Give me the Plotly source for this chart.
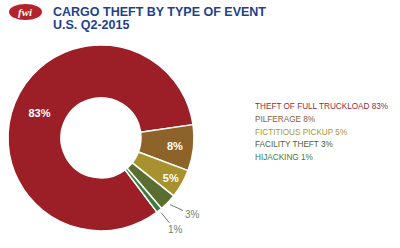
import math
import plotly.graph_objects as go

categories = ["THEFT OF FULL TRUCKLOAD", "PILFERAGE", "FICTITIOUS PICKUP", "FACILITY THEFT", "HIJACKING"]
values = [83, 8, 5, 3, 1]
colors = ["#9c1f28", "#8e6329", "#a8922f", "#5a6e2f", "#3b7d3c"]
legend_colors = ["#9a2a38", "#8a6035", "#a8963a", "#4f5f30", "#3f7a3f"]
inside = [True, True, True, False, False]

W, H = 400, 248
dom_x = [0.02, 0.485]
dom_y = [0.069, 0.819]
rotation = 143

fig = go.Figure()
fig.add_trace(go.Pie(
    labels=categories,
    values=values,
    hole=0.43,
    sort=False,
    direction="clockwise",
    rotation=rotation,
    marker=dict(colors=colors, line=dict(color="white", width=1.5)),
    texttemplate=["%{value}%" if s else "" for s in inside],
    textposition=["inside" if s else "none" for s in inside],
    insidetextfont=dict(color="white", size=11, family="Liberation Sans", weight="bold"),
    insidetextorientation="horizontal",
    domain=dict(x=dom_x, y=dom_y),
    showlegend=False,
))

# outside labels with leader lines, positioned from the data angles
cx = (dom_x[0] + dom_x[1]) / 2
cy = (dom_y[0] + dom_y[1]) / 2
r_px = min((dom_x[1] - dom_x[0]) * W, (dom_y[1] - dom_y[0]) * H) / 2
total = sum(values)
cum = 0
offsets = {3: (22, 10), 4: (14, 17)}
for i, v in enumerate(values):
    mid = math.radians(rotation + 360 * (cum + v / 2) / total)
    cum += v
    if inside[i]:
        continue
    rr = r_px + 3
    tx = cx + rr * math.sin(mid) / W
    ty = cy + rr * math.cos(mid) / H
    ax, ay = offsets[i]
    fig.add_annotation(
        x=tx, y=ty, xref="paper", yref="paper", text=f"{v}%",
        showarrow=True, arrowhead=0, arrowwidth=1, arrowcolor="#6f8070",
        ax=ax, ay=ay, standoff=0,
        font=dict(color="#6f8070", size=10, family="Liberation Sans"),
    )

# Legend as colored text
for i, (c, v, col) in enumerate(zip(categories, values, legend_colors)):
    fig.add_annotation(
        x=253 / W, y=1 - (107 + i * 12.5) / H, xref="paper", yref="paper",
        text=f"{c} {v}%", showarrow=False, xanchor="left", yanchor="middle",
        font=dict(color=col, size=8.2, family="Liberation Sans"),
    )

# Title
for j, t in enumerate(["CARGO THEFT BY TYPE OF EVENT", "U.S. Q2-2015"]):
    fig.add_annotation(
        x=51 / W, y=1 - (12 + j * 13) / H, xref="paper", yref="paper",
        text=f"<b>{t}</b>", showarrow=False,
        xanchor="left", yanchor="middle", align="left",
        font=dict(color="#233f8c", size=12.5, family="Liberation Sans"),
    )

# Logo
fig.add_shape(type="circle", xref="paper", yref="paper",
              x0=9 / W, x1=42 / W, y0=1 - 20 / H, y1=1 - 4 / H,
              fillcolor="#b3232b", line=dict(color="#b3232b", width=0))
fig.add_annotation(
    x=25.5 / W, y=1 - 12 / H, xref="paper", yref="paper",
    text="<b><i>fwi</i></b>", showarrow=False, xanchor="center", yanchor="middle",
    font=dict(color="white", size=11, family="Liberation Serif"),
)

fig.update_layout(
    width=W, height=H,
    margin=dict(l=0, r=0, t=0, b=0),
    paper_bgcolor="white", plot_bgcolor="white",
)

fig.write_html("out.html")
